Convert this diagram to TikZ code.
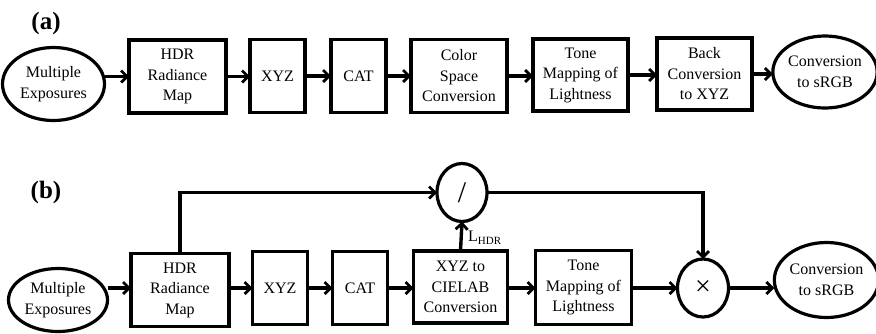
\documentclass[tikz,border=0pt]{standalone}
\usepackage{fontspec}
\setmainfont{Liberation Serif}
\usetikzlibrary{shapes.geometric,arrows.meta}
\begin{document}
\begin{tikzpicture}[x=1pt,y=-1pt,
  every node/.style={inner sep=0pt, outer sep=0pt, align=center,
    font=\fontsize{16}{20.5}\selectfont},
  blk/.style={draw, line width=3.2pt, rectangle},
  ell/.style={draw, line width=3.2pt, ellipse},
  lbl/.style={font=\fontsize{25}{28}\selectfont\bfseries},
  arr/.style={line width=3.4pt, -{Straight Barb[length=6pt,width=12pt,line width=2.8pt]}}
]
\useasboundingbox (0,0) rectangle (876,333);
% (a)
\node[lbl] (la) at (46,23) {(a)};
\node[ell, minimum width=102pt, minimum height=73pt] (ea) at (53.5,84) {Multiple\\Exposures};
\node[blk, minimum width=97pt, minimum height=73pt] (hdra) at (177.5,76.5) {HDR\\Radiance\\Map};
\node[blk, minimum width=55pt, minimum height=73pt] (xyza) at (277.5,76) {XYZ};
\node[blk, minimum width=55pt, minimum height=73pt] (cata) at (358.5,76) {CAT};
\node[blk, minimum width=96pt, minimum height=73pt] (csca) at (459,76) {Color\\Space\\Conversion};
\node[blk, minimum width=95pt, minimum height=72pt] (tona) at (580.5,75) {Tone\\Mapping of\\Lightness};
\node[blk, minimum width=95pt, minimum height=72pt] (baca) at (704.5,74) {Back\\Conversion\\to XYZ};
\node[ell, minimum width=95pt, minimum height=72pt] (srga) at (825,72) {Conversion\\to sRGB};
\draw[arr] (ea.east |- hdra.west) -- (hdra.west);
\draw[arr] (hdra.east) -- (xyza.west |- hdra.east);
\draw[arr] (xyza.east) -- (cata.west);
\draw[arr] (cata.east) -- (csca.west |- cata.east);
\draw[arr] (csca.east) -- (tona.west |- csca.east);
\draw[arr] (tona.east) -- (baca.west |- tona.east);
\draw[arr] (baca.east) -- (srga.west |- baca.east);
% (b)
\node[lbl] (lb) at (46,192) {(b)};
\node[ell, minimum width=99pt, minimum height=63pt] (eb) at (58,300) {Multiple\\Exposures};
\node[blk, minimum width=98pt, minimum height=73pt] (hdrb) at (180,290) {HDR\\Radiance\\Map};
\node[blk, minimum width=55pt, minimum height=73pt] (xyzb) at (280,288) {XYZ};
\node[blk, minimum width=55pt, minimum height=73pt] (catb) at (360,288) {CAT};
\node[blk, minimum width=94pt, minimum height=72pt] (labb) at (460.5,287) {XYZ to\\CIELAB\\Conversion};
\node[blk, minimum width=96pt, minimum height=74pt] (tonb) at (583.5,287.5) {Tone\\Mapping of\\Lightness};
\node[ell, minimum width=51pt, minimum height=58pt, font=\fontsize{28}{28}\selectfont] (mul) at (703,288) {×};
\node[ell, minimum width=96pt, minimum height=75pt] (srgb) at (826.5,280) {Conversion\\to sRGB};
\node[ell, minimum width=50pt, minimum height=58pt, font=\fontsize{30}{30}\selectfont] (dv) at (462,192.5) {/};
\coordinate (up) at (180,192.5);
\draw[arr] (eb.east |- xyzb.west) -- (hdrb.west |- xyzb.west);
\draw[arr] (hdrb.east |- xyzb.west) -- (xyzb.west);
\draw[arr] (xyzb.east) -- (catb.west);
\draw[arr] (catb.east) -- (labb.west |- catb.east);
\draw[arr] (labb.east |- catb.east) -- (tonb.west |- catb.east);
\draw[arr] (tonb.east |- mul.west) -- (mul.west);
\draw[arr] (mul.east) -- (srgb.west |- mul.east);
\draw[arr] (hdrb.north) -- (up) -- (dv.west);
\draw[arr] (dv.east) -| (mul.north);
\draw[arr] (labb.north) -- (dv.south) node[pos=0.45, right=7pt, anchor=west, font=\fontsize{16}{16}\selectfont] (lh) {L\textsubscript{\fontsize{11}{11}\selectfont HDR}};
\end{tikzpicture}
\end{document}
